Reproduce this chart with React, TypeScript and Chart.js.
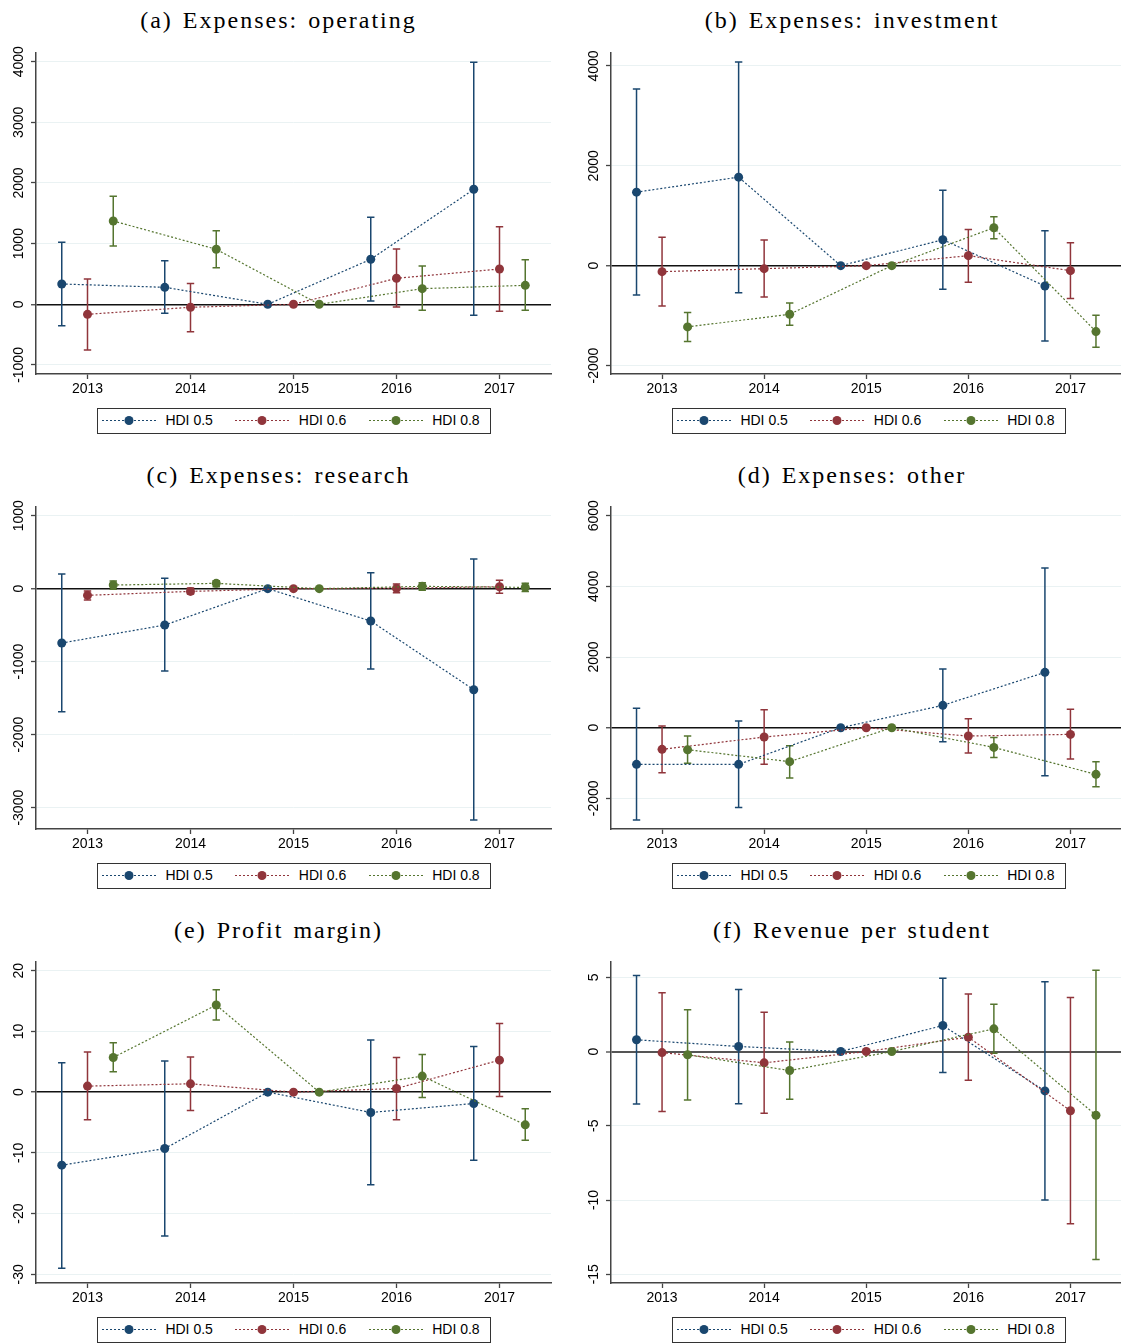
import React, { useEffect, useRef } from 'react';
import { Chart, registerables } from 'chart.js';

Chart.register(...registerables);

// ---------- shared categories / series ----------
const YEARS = [2013, 2014, 2015, 2016, 2017];
const YEAR_LABELS = ['2013', '2014', '2015', '2016', '2017'];
const SERIES_NAMES = ['HDI 0.5', 'HDI 0.6', 'HDI 0.8'];
const SERIES_COLORS = ['#1a476f', '#90353b', '#55752f'];
const SERIES_SHIFT = [-0.25, 0, 0.25];

// ---------- (a) Expenses: operating ----------
const opEst05 = [335, 280, 0, 742, 1896];
const opLo05 = [-352, -148, null, 55, -181];
const opHi05 = [1022, 720, null, 1434, 3989];
const opEst06 = [-165, -49, 0, 429, 582];
const opLo06 = [-753, -451, null, -44, -115];
const opHi06 = [418, 341, null, 912, 1280];
const opEst08 = [1374, 907, 0, 258, 313];
const opLo08 = [962, 604, null, -99, -99];
const opHi08 = [1780, 1214, null, 632, 736];
const opTicks = [-1000, 0, 1000, 2000, 3000, 4000];

// ---------- (b) Expenses: investment ----------
const invEst05 = [1473, 1773, 0, 520, -407];
const invLo05 = [-587, -540, null, -473, -1507];
const invHi05 = [3540, 4080, null, 1513, 700];
const invEst06 = [-120, -60, 0, 200, -100];
const invLo06 = [-807, -627, null, -333, -660];
const invHi06 = [567, 513, null, 727, 460];
const invEst08 = [-1227, -973, 0, 760, -1320];
const invLo08 = [-1520, -1193, null, 540, -1633];
const invHi08 = [-940, -747, null, 980, -993];
const invTicks = [-2000, 0, 2000, 4000];

// ---------- (c) Expenses: research ----------
const resEst05 = [-744, -498, 0, -443, -1384];
const resLo05 = [-1685, -1128, null, -1100, -3169];
const resHi05 = [201, 142, null, 219, 406];
const resEst06 = [-91, -37, 0, 5, 27];
const resLo06 = [-155, -73, null, -55, -64];
const resHi06 = [-32, 9, null, 64, 114];
const resEst08 = [50, 73, 0, 32, 18];
const resLo08 = [-9, 27, null, -23, -37];
const resHi08 = [105, 110, null, 82, 73];
const resTicks = [-3000, -2000, -1000, 0, 1000];

// ---------- (d) Expenses: other ----------
const othEst05 = [-1038, -1038, 0, 632, 1566];
const othLo05 = [-2613, -2255, null, -396, -1358];
const othHi05 = [547, 189, null, 1660, 4519];
const othEst06 = [-613, -264, 0, -236, -189];
const othLo06 = [-1274, -1038, null, -717, -887];
const othHi06 = [47, 509, null, 255, 519];
const othEst08 = [-623, -962, 0, -557, -1321];
const othLo08 = [-1009, -1425, null, -840, -1670];
const othHi08 = [-236, -509, null, -274, -962];
const othTicks = [-2000, 0, 2000, 4000, 6000];

// ---------- (e) Profit margin ----------
const pmEst05 = [-12.03, -9.29, 0, -3.35, -1.87];
const pmLo05 = [-29.0, -23.7, null, -15.27, -11.2];
const pmHi05 = [4.84, 5.11, null, 8.57, 7.53];
const pmEst06 = [0.99, 1.37, 0, 0.6, 5.27];
const pmLo06 = [-4.56, -3.02, null, -4.56, -0.71];
const pmHi06 = [6.59, 5.77, null, 5.71, 11.3];
const pmEst08 = [5.71, 14.34, 0, 2.64, -5.38];
const pmLo08 = [3.35, 11.87, null, -0.88, -7.91];
const pmHi08 = [8.13, 16.87, null, 6.21, -2.75];
const pmTicks = [-30, -20, -10, 0, 10, 20];

// ---------- (f) Revenue per student ----------
const rpsEst05 = [0.79, 0.34, 0, 1.75, -2.65];
const rpsLo05 = [-3.53, -3.51, null, -1.42, -10.0];
const rpsHi05 = [5.12, 4.18, null, 4.94, 4.7];
const rpsEst06 = [-0.07, -0.76, 0, 0.97, -3.99];
const rpsLo06 = [-4.04, -4.16, null, -1.93, -11.6];
const rpsHi06 = [3.96, 2.65, null, 3.87, 3.64];
const rpsEst08 = [-0.22, -1.28, 0, 1.53, -4.29];
const rpsLo08 = [-3.26, -3.21, null, -0.11, -14.0];
const rpsHi08 = [2.81, 0.65, null, 3.19, 5.48];
const rpsTicks = [-15, -10, -5, 0, 5];

// ---------- styling / layout ----------
const SANS = "'Liberation Sans', Arial, sans-serif";
const SERIF = "'Liberation Serif', 'Times New Roman', serif";
const AXIS_COLOR = '#444444';
const GRID_COLOR = '#eaf2f3';

const COL_AXIS_X = [36, 611];
const COL_TITLE_CX = [278.5, 852];
const PLOT_W = 515;
const ROW_PLOT_TOP = [53, 507, 962];
const ROW_PLOT_H = [321, 322, 321];
const ROW_TITLE_BASE = [28.3, 483.3, 938.3];
const TOP_PAD = 10;
const X_AXIS_H = 30;
const Y_LABEL_OFFSET = 17;
const TICK_LEN = 5;
const TITLE_SIZE = 24;

type PanelSpec = {
  title: string;
  est: number[][];
  lo: (number | null)[][];
  hi: (number | null)[][];
  ticks: number[];
  yMin: number;
  yMax: number;
  col: number;
  row: number;
  zeroColor: string;
  zeroWidth: number;
};

const PANELS: PanelSpec[] = [
  { title: '(a) Expenses: operating', est: [opEst05, opEst06, opEst08], lo: [opLo05, opLo06, opLo08], hi: [opHi05, opHi06, opHi08], ticks: opTicks, yMin: -1149, yMax: 4143, col: 0, row: 0, zeroColor: '#111', zeroWidth: 1.5 },
  { title: '(b) Expenses: investment', est: [invEst05, invEst06, invEst08], lo: [invLo05, invLo06, invLo08], hi: [invHi05, invHi06, invHi08], ticks: invTicks, yMin: -2170, yMax: 4260, col: 1, row: 0, zeroColor: '#111', zeroWidth: 1.5 },
  { title: '(c) Expenses: research', est: [resEst05, resEst06, resEst08], lo: [resLo05, resLo06, resLo08], hi: [resHi05, resHi06, resHi08], ticks: resTicks, yMin: -3292, yMax: 1119, col: 0, row: 1, zeroColor: '#111', zeroWidth: 1.5 },
  { title: '(d) Expenses: other', est: [othEst05, othEst06, othEst08], lo: [othLo05, othLo06, othLo08], hi: [othHi05, othHi06, othHi08], ticks: othTicks, yMin: -2867, yMax: 6246, col: 1, row: 1, zeroColor: '#111', zeroWidth: 1.5 },
  { title: '(e) Profit margin)', est: [pmEst05, pmEst06, pmEst08], lo: [pmLo05, pmLo06, pmLo08], hi: [pmHi05, pmHi06, pmHi08], ticks: pmTicks, yMin: -31.43, yMax: 21.43, col: 0, row: 2, zeroColor: '#111', zeroWidth: 1.5 },
  { title: '(f) Revenue per student', est: [rpsEst05, rpsEst06, rpsEst08], lo: [rpsLo05, rpsLo06, rpsLo08], hi: [rpsHi05, rpsHi06, rpsHi08], ticks: rpsTicks, yMin: -15.59, yMax: 6.03, col: 1, row: 2, zeroColor: '#555', zeroWidth: 2 },
];

function measure(text: string): number {
  const ctx = document.createElement('canvas').getContext('2d') as CanvasRenderingContext2D;
  ctx.font = `14px ${SANS}`;
  return ctx.measureText(text).width;
}

const CAP_HALF = 3.7;

const errorBarPlugin = {
  id: 'errorBars',
  beforeDatasetsDraw(chart: any) {
    const { ctx, chartArea } = chart;
    const xs = chart.scales.x;
    const ys = chart.scales.y;
    ctx.save();
    ctx.beginPath();
    ctx.rect(chartArea.left, chartArea.top, chartArea.right - chartArea.left, chartArea.bottom - chartArea.top);
    ctx.clip();
    chart.data.datasets.forEach((ds: any) => {
      ctx.strokeStyle = ds.errColor;
      ctx.lineWidth = 1.5;
      ds.data.forEach((pt: any, j: number) => {
        const lo = ds.lo[j];
        const hi = ds.hi[j];
        if (lo == null || hi == null) return;
        const px = xs.getPixelForValue(pt.x);
        const pLo = ys.getPixelForValue(lo);
        const pHi = ys.getPixelForValue(hi);
        ctx.beginPath();
        ctx.moveTo(px, pLo);
        ctx.lineTo(px, pHi);
        ctx.moveTo(px - CAP_HALF, pLo);
        ctx.lineTo(px + CAP_HALF, pLo);
        ctx.moveTo(px - CAP_HALF, pHi);
        ctx.lineTo(px + CAP_HALF, pHi);
        ctx.stroke();
      });
    });
    ctx.restore();
  },
};

function Panel({ p }: { p: PanelSpec }) {
  const ref = useRef<HTMLCanvasElement>(null);
  const axisX = COL_AXIS_X[p.col];
  const canvasLeft = p.col === 0 ? 0 : 560;
  const yAxisW = axisX - canvasLeft;
  const padRight = p.col === 0 ? 560 - (axisX + PLOT_W) : 0;
  const canvasW = yAxisW + PLOT_W + padRight;
  const plotTop = ROW_PLOT_TOP[p.row];
  const plotH = ROW_PLOT_H[p.row];
  const canvasTop = plotTop - TOP_PAD;
  const canvasH = TOP_PAD + plotH + X_AXIS_H;

  useEffect(() => {
    const canvas = ref.current as HTMLCanvasElement;
    const font = { family: SANS, size: 14 };
    const widest = Math.max(...p.ticks.map((t) => measure(String(t))));
    const chart = new Chart(canvas, {
      type: 'scatter',
      data: {
        datasets: SERIES_NAMES.map((name, i) => ({
          label: name,
          data: YEARS.map((yr, j) => ({ x: yr + SERIES_SHIFT[i], y: p.est[i][j] })),
          lo: p.lo[i],
          hi: p.hi[i],
          errColor: SERIES_COLORS[i],
          showLine: true,
          borderColor: SERIES_COLORS[i],
          borderWidth: 1.2,
          borderDash: [2, 2],
          backgroundColor: SERIES_COLORS[i],
          pointBackgroundColor: SERIES_COLORS[i],
          pointBorderWidth: 0,
          pointRadius: 4.5,
          tension: 0,
          order: 2 - i,
        })) as any,
      },
      options: {
        animation: false,
        responsive: false,
        maintainAspectRatio: false,
        events: [],
        layout: { padding: { top: TOP_PAD, right: padRight, left: 0, bottom: 0 } },
        plugins: { legend: { display: false }, tooltip: { enabled: false }, title: { display: false } },
        scales: {
          x: {
            type: 'linear',
            min: 2012.5,
            max: 2017.5,
            afterBuildTicks: (s: any) => {
              s.ticks = YEARS.map((v) => ({ value: v }));
            },
            afterFit: (s: any) => {
              s.height = X_AXIS_H;
              s.paddingLeft = 0;
              s.paddingRight = 0;
            },
            ticks: {
              autoSkip: false,
              maxRotation: 0,
              minRotation: 0,
              padding: 1.5,
              color: '#000',
              font,
              callback: (v: any) => YEAR_LABELS[YEARS.indexOf(Number(v))] ?? '',
            },
            grid: { drawOnChartArea: false, drawTicks: true, tickLength: TICK_LEN, tickColor: AXIS_COLOR, tickWidth: 1.3 },
            border: { display: true, color: AXIS_COLOR, width: 1.5 },
          },
          y: {
            type: 'linear',
            min: p.yMin,
            max: p.yMax,
            afterBuildTicks: (s: any) => {
              s.ticks = p.ticks.map((v) => ({ value: v }));
            },
            afterFit: (s: any) => {
              s.width = yAxisW;
              s.paddingTop = 0;
              s.paddingBottom = 0;
            },
            ticks: {
              autoSkip: false,
              minRotation: 90,
              maxRotation: 90,
              crossAlign: 'center',
              padding: Y_LABEL_OFFSET - TICK_LEN - widest / 2,
              color: '#000',
              font,
              callback: (v: any) => String(v),
            },
            grid: {
              drawTicks: true,
              tickLength: TICK_LEN,
              tickColor: AXIS_COLOR,
              tickWidth: 1.3,
              color: (c: any) => (c.tick && c.tick.value === 0 ? p.zeroColor : GRID_COLOR),
              lineWidth: (c: any) => (c.tick && c.tick.value === 0 ? p.zeroWidth : 1),
            },
            border: { display: true, color: AXIS_COLOR, width: 1.5 },
          },
        },
      } as any,
      plugins: [errorBarPlugin as any],
    });
    return () => chart.destroy();
  }, [p, yAxisW, padRight]);

  const legendLeft = axisX + PLOT_W / 2 - 197;
  const legendTop = plotTop + plotH + 33.5;
  const titleCx = COL_TITLE_CX[p.col];
  // baseline of a line box: half-leading + ascent (Liberation Serif ascent ~0.891em)
  const lineH = 32;
  const baseOffset = (lineH - TITLE_SIZE * 1.107) / 2 + TITLE_SIZE * 0.891;

  return (
    <>
      <div
        style={{
          position: 'absolute',
          left: titleCx - 300,
          top: ROW_TITLE_BASE[p.row] - baseOffset,
          width: 600,
          textAlign: 'center',
          fontFamily: SERIF,
          fontSize: TITLE_SIZE,
          lineHeight: `${lineH}px`,
          letterSpacing: '2px',
          wordSpacing: '2px',
          color: '#000',
          whiteSpace: 'nowrap',
        }}
      >
        {p.title}
      </div>
      <canvas
        ref={ref}
        width={canvasW}
        height={canvasH}
        style={{ position: 'absolute', left: canvasLeft, top: canvasTop, width: canvasW, height: canvasH }}
      />
      <div
        style={{
          position: 'absolute',
          left: legendLeft,
          top: legendTop,
          width: 394,
          height: 26,
          boxSizing: 'border-box',
          border: '1.5px solid #333',
          background: '#fff',
        }}
      >
        {SERIES_NAMES.map((name, i) => (
          <React.Fragment key={name}>
            <svg
              style={{ position: 'absolute', left: 4.5 + i * 133.4, top: 6 }}
              width={54}
              height={11}
            >
              <line x1={0} y1={5.5} x2={54} y2={5.5} stroke={SERIES_COLORS[i]} strokeWidth={1.2} strokeDasharray="2 2" />
              <circle cx={27} cy={5.5} r={4.5} fill={SERIES_COLORS[i]} />
            </svg>
            <span
              style={{
                position: 'absolute',
                left: 67.9 + i * 133.4,
                top: 0,
                lineHeight: '23px',
                fontFamily: SANS,
                fontSize: 14,
                color: '#000',
                whiteSpace: 'nowrap',
              }}
            >
              {name}
            </span>
          </React.Fragment>
        ))}
      </div>
    </>
  );
}

export default function App() {
  return (
    <div
      style={{
        position: 'absolute',
        left: 0,
        top: 0,
        width: 1121,
        height: 1344,
        overflow: 'hidden',
        background: '#fff',
      }}
    >
      {PANELS.map((p) => (
        <Panel key={p.title} p={p} />
      ))}
    </div>
  );
}
